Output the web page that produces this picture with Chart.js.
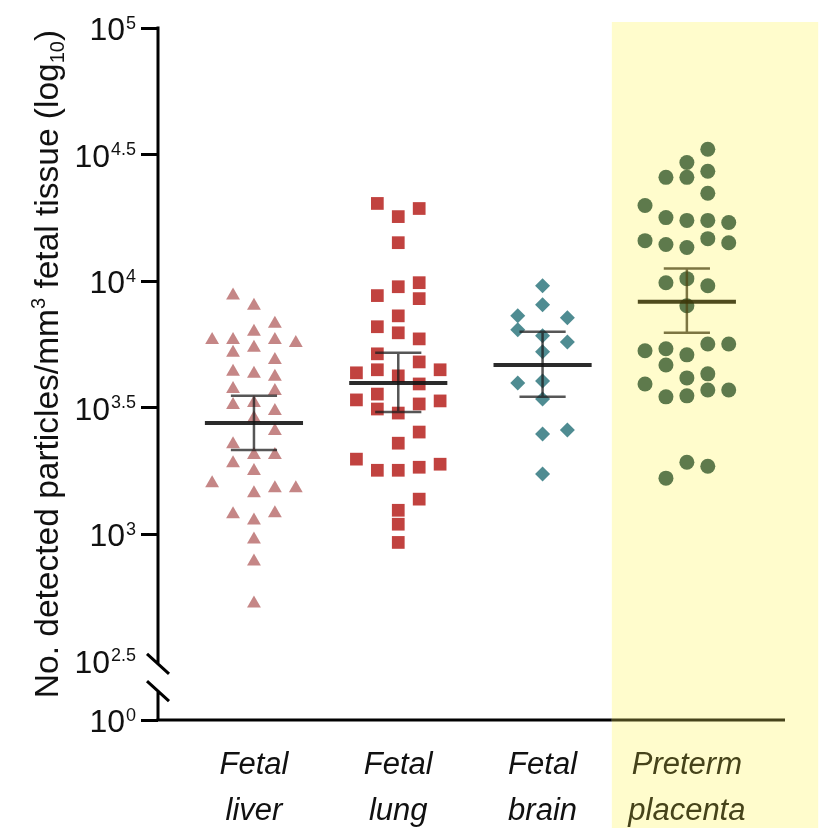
<!DOCTYPE html>
<html>
<head>
<meta charset="utf-8">
<script src="https://cdn.jsdelivr.net/npm/chart.js@4.4.0/dist/chart.umd.min.js"></script>
<style>
  html, body { margin: 0; padding: 0; background: #fff; }
  #wrap { width: 825px; height: 828px; }
</style>
</head>
<body>
<div id="wrap"><canvas id="scatter-chart"></canvas></div>
<script>
// categories on the x axis (two lines each)
const categories = [['Fetal', 'liver'], ['Fetal', 'lung'], ['Fetal', 'brain'], ['Preterm', 'placenta']];

// values are log10 of particles/mm3
const liverValues = [3.943, 3.903, 3.832, 3.800, 3.768, 3.768, 3.768, 3.756, 3.717, 3.737, 3.689, 3.642,
    3.634, 3.622, 3.574, 3.566, 3.511, 3.519, 3.487, 3.459, 3.408, 3.356, 3.313, 3.313,
    3.281, 3.250, 3.202, 3.182, 3.182, 3.162, 3.079, 3.083, 3.055, 2.980, 2.893, 2.727];
// column of each point inside its group (scatter layout)
const liverCols = [-1, 0, 1, 0, -2, -1, 1, 2, -1, 0, 1, -1,
    0, 1, -1, 1, -1, 0, 1, 0, 1, -1, 0, 1,
    -1, 0, -2, 1, 2, 0, -1, 1, 0, 0, 0, 0];

const lungValues = [4.307, 4.255, 4.287, 4.152, 3.978, 3.994, 3.943, 3.931, 3.863, 3.820, 3.796, 3.772,
    3.713, 3.681, 3.638, 3.650, 3.650, 3.626, 3.594, 3.531, 3.554, 3.495, 3.479, 3.515,
    3.527, 3.404, 3.360, 3.297, 3.253, 3.253, 3.265, 3.277, 3.139, 3.095, 3.040, 2.968];
const lungCols = [-1, 0, 1, 0, 0, 1, -1, 1, 0, -1, 0, 1,
    -1, 1, -2, -1, 2, 0, 1, -2, -1, -1, 0, 1,
    2, 1, 0, -2, -1, 0, 1, 2, 1, 0, 0, 0];

const brainValues = [3.982, 3.907, 3.863, 3.855, 3.808, 3.784, 3.760, 3.721, 3.598, 3.606, 3.535, 3.412, 3.396, 3.238];
const brainCols = [0, 0, -1, 1, -1, 0, 1, 0, -1, 0, 0, 1, 0, 0];

const placentaValues = [4.521, 4.469, 4.434, 4.410, 4.410, 4.347, 4.299, 4.251, 4.240, 4.240, 4.232, 4.160,
    4.145, 4.133, 4.168, 4.152, 3.994, 4.010, 3.982, 3.903, 3.725, 3.733, 3.709, 3.752,
    3.752, 3.669, 3.618, 3.634, 3.594, 3.543, 3.547, 3.570, 3.570, 3.285, 3.269, 3.222];
const placentaCols = [1, 0, 1, -1, 0, 1, -2, -1, 0, 1, 2, -2,
    -1, 0, 1, 2, -1, 0, 1, 0, -2, -1, 0, 1,
    2, -1, 0, 1, -2, -1, 0, 1, 2, 0, 1, -1];

// mean and SEM bars (log10)
const means = [3.440, 3.598, 3.669, 3.919];
const errHigh = [3.547, 3.717, 3.800, 4.050];
const errLow = [3.333, 3.483, 3.543, 3.796];

// y tick exponents (10^x)
const yTicks = [2.5, 3, 3.5, 4, 4.5, 5];
const yBottomTick = 0;

const FONT = "'Liberation Sans', Arial, Helvetica, sans-serif";
const colSpacing = 0.145;
const bandFrom = 2.48, bandTo = 3.91;
const olive = '#46431a';

function makePoints(values, cols, group, spacing) {
    return values.map((v, i) => ({ x: group + cols[i] * spacing, y: v }));
}

// superscript style tick label "10^x"
function drawPower(ctx, exp, right, y) {
    ctx.font = '32px ' + FONT;
    const wb = ctx.measureText('10').width;
    ctx.font = '18px ' + FONT;
    const we = ctx.measureText(exp).width;
    const start = right - we - wb - 1;
    ctx.fillStyle = '#111';
    ctx.textAlign = 'left';
    ctx.textBaseline = 'alphabetic';
    ctx.font = '32px ' + FONT;
    ctx.fillText('10', start, y + 12);
    ctx.font = '18px ' + FONT;
    ctx.fillText(exp, start + wb + 1, y + 0.5);
}

const decorations = {
    id: 'decorations',
    beforeDraw(chart) {
        const { ctx } = chart;
        const xs = chart.scales.x, ys = chart.scales.y;
        const left = xs.getPixelForValue(bandFrom);
        const right = xs.getPixelForValue(bandTo);
        const top = ys.getPixelForValue(5) - 6;
        ctx.save();
        ctx.fillStyle = '#fffccc';
        ctx.fillRect(left, top, right - left, chart.height - top);
        ctx.restore();
    },
    afterDatasetsDraw(chart) {
        const { ctx } = chart;
        const xs = chart.scales.x, ys = chart.scales.y;
        ctx.save();
        means.forEach((m, i) => {
            const c = i === 3 ? 'rgba(60, 55, 10, 0.9)' : 'rgba(20, 20, 20, 0.9)';
            const cLight = i === 3 ? 'rgba(80, 72, 20, 0.75)' : 'rgba(30, 30, 30, 0.75)';
            const yM = ys.getPixelForValue(m);
            const yH = ys.getPixelForValue(errHigh[i]);
            const yL = ys.getPixelForValue(errLow[i]);
            ctx.strokeStyle = cLight;
            ctx.lineWidth = 2.5;
            ctx.beginPath();
            ctx.moveTo(xs.getPixelForValue(i), yH);
            ctx.lineTo(xs.getPixelForValue(i), yL);
            ctx.moveTo(xs.getPixelForValue(i - 0.16), yH);
            ctx.lineTo(xs.getPixelForValue(i + 0.16), yH);
            ctx.moveTo(xs.getPixelForValue(i - 0.16), yL);
            ctx.lineTo(xs.getPixelForValue(i + 0.16), yL);
            ctx.stroke();
            ctx.strokeStyle = c;
            ctx.lineWidth = 4;
            ctx.beginPath();
            ctx.moveTo(xs.getPixelForValue(i - 0.34), yM);
            ctx.lineTo(xs.getPixelForValue(i + 0.34), yM);
            ctx.stroke();
        });
        ctx.restore();
    },
    afterDraw(chart) {
        const { ctx, chartArea } = chart;
        const xs = chart.scales.x, ys = chart.scales.y, y0 = chart.scales.y0;
        const ax = chartArea.left;
        ctx.save();
        ctx.lineWidth = 3;
        ctx.strokeStyle = '#000';
        ctx.lineCap = 'butt';
        // y axis with break
        const b1 = y0.getPixelForValue(0.95), b2 = y0.getPixelForValue(0.49);
        ctx.beginPath();
        ctx.moveTo(ax, ys.getPixelForValue(5) - 1.5);
        ctx.lineTo(ax, b1);
        ctx.moveTo(ax, b2);
        ctx.lineTo(ax, chartArea.bottom);
        ctx.moveTo(ax - 11, b1 - 10);
        ctx.lineTo(ax + 11, b1 + 10);
        ctx.moveTo(ax - 11, b2 - 10);
        ctx.lineTo(ax + 11, b2 + 10);
        ctx.stroke();
        // x axis
        const bandX = xs.getPixelForValue(bandFrom);
        ctx.beginPath();
        ctx.moveTo(ax - 1.5, chartArea.bottom);
        ctx.lineTo(bandX, chartArea.bottom);
        ctx.stroke();
        ctx.strokeStyle = olive;
        ctx.beginPath();
        ctx.moveTo(bandX, chartArea.bottom);
        ctx.lineTo(chartArea.right, chartArea.bottom);
        ctx.stroke();

        // tick labels
        const right = ax - 22;
        yTicks.forEach(t => drawPower(ctx, String(t), right, ys.getPixelForValue(t)));
        drawPower(ctx, String(yBottomTick), right, y0.getPixelForValue(yBottomTick));

        // y title with superscript / subscript
        const parts = [
            { t: 'No. detected particles/mm', s: 33.5, dy: 0 },
            { t: '3', s: 20, dy: -13 },
            { t: ' fetal tissue (log', s: 33.5, dy: 0 },
            { t: '10', s: 20, dy: 6 },
            { t: ')', s: 33.5, dy: 0 }
        ];
        let total = 0;
        parts.forEach(p => { ctx.font = p.s + 'px ' + FONT; p.w = ctx.measureText(p.t).width; total += p.w; });
        ctx.translate(58, 364);
        ctx.rotate(-Math.PI / 2);
        ctx.fillStyle = '#111';
        ctx.textAlign = 'left';
        ctx.textBaseline = 'alphabetic';
        let pos = -total / 2;
        parts.forEach(p => {
            ctx.font = p.s + 'px ' + FONT;
            ctx.fillText(p.t, pos, p.dy);
            pos += p.w;
        });
        ctx.restore();
    }
};

const chartEl = document.getElementById('scatter-chart');

const chart = new Chart(chartEl, {
    type: 'scatter',
    data: {
        datasets: [{
            label: 'Fetal liver',
            data: makePoints(liverValues, liverCols, 0, colSpacing),
            pointStyle: 'triangle',
            pointRadius: 8,
            backgroundColor: '#c58686',
            borderWidth: 0
        }, {
            label: 'Fetal lung',
            data: makePoints(lungValues, lungCols, 1, colSpacing),
            pointStyle: 'rect',
            pointRadius: 9,
            backgroundColor: '#c1423f',
            borderWidth: 0
        }, {
            label: 'Fetal brain',
            data: makePoints(brainValues, brainCols, 2, 0.172),
            pointStyle: 'rectRot',
            pointRadius: 7.5,
            backgroundColor: '#4f8c92',
            borderWidth: 0
        }, {
            label: 'Preterm placenta',
            data: makePoints(placentaValues, placentaCols, 3, colSpacing),
            pointStyle: 'circle',
            pointRadius: 7.5,
            backgroundColor: '#5e7a4c',
            borderWidth: 0
        }]
    },
    options: {
        responsive: true,
        maintainAspectRatio: false,
        animation: false,
        events: [],
        layout: {
            padding: { left: 141, right: 40, top: 28, bottom: -21 }
        },
        plugins: {
            legend: { display: false },
            tooltip: { enabled: false }
        },
        scales: {
            x: {
                type: 'linear',
                min: -0.665,
                max: 3.68,
                afterBuildTicks: s => { s.ticks = categories.map((c, i) => ({ value: i })); },
                grid: { display: false },
                border: { display: false },
                ticks: {
                    autoSkip: false,
                    maxRotation: 0,
                    padding: 14,
                    callback: (v, i) => categories[i],
                    color: c => c.index === 3 ? olive : '#111',
                    font: { family: FONT, size: 31, style: 'italic', lineHeight: 1.5 }
                }
            },
            y: {
                type: 'linear',
                stack: 'left',
                stackWeight: 632,
                weight: 1,
                min: 2.5,
                max: 5,
                afterBuildTicks: s => { s.ticks = yTicks.map(v => ({ value: v })); },
                border: { display: false },
                ticks: { display: false },
                grid: {
                    drawOnChartArea: false,
                    drawTicks: true,
                    tickLength: 17,
                    lineWidth: 3,
                    tickColor: c => (c.tick && c.tick.value === 2.5) ? 'rgba(0,0,0,0)' : '#000'
                }
            },
            y0: {
                type: 'linear',
                position: 'left',
                stack: 'left',
                stackWeight: 59,
                weight: 0,
                min: 0,
                max: 1,
                afterBuildTicks: s => { s.ticks = [{ value: yBottomTick }]; },
                border: { display: false },
                ticks: { display: false },
                grid: {
                    drawOnChartArea: false,
                    drawTicks: true,
                    tickLength: 17,
                    lineWidth: 3,
                    tickColor: '#000'
                }
            }
        }
    },
    plugins: [decorations]
});
</script>
</body>
</html>
